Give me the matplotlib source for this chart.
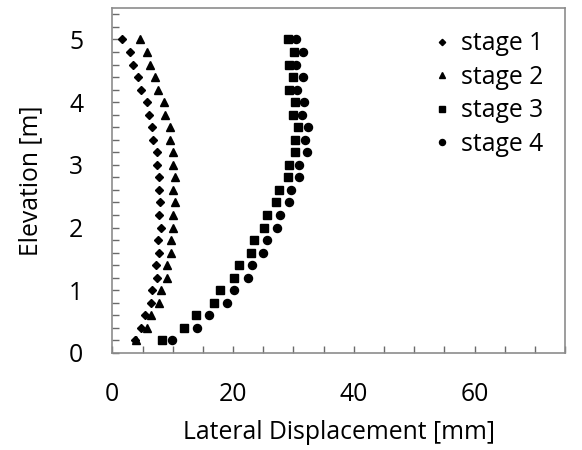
import matplotlib
matplotlib.use("Agg")
import matplotlib.pyplot as plt
from matplotlib.ticker import MultipleLocator

plt.rcParams['font.family'] = ['Open Sans', 'DejaVu Sans']

# elevation of each measuring point [m]
elev = [5.0, 4.8, 4.6, 4.4, 4.2, 4.0, 3.8, 3.6, 3.4, 3.2, 3.0, 2.8, 2.6,
        2.4, 2.2, 2.0, 1.8, 1.6, 1.4, 1.2, 1.0, 0.8, 0.6, 0.4, 0.2]

# lateral displacement [mm], top to bottom
stage1 = [1.6, 2.9, 3.5, 4.3, 4.8, 5.7, 6.0, 6.6, 6.8, 7.4, 7.4, 7.7, 7.7,
          7.9, 7.7, 8.0, 7.6, 7.7, 7.3, 7.4, 6.5, 6.4, 5.4, 4.8, 3.7]
stage2 = [4.6, 5.7, 6.3, 7.1, 7.5, 8.5, 8.7, 9.5, 9.5, 10.1, 10.0, 10.4, 10.1,
          10.4, 10.0, 10.1, 9.7, 9.7, 9.1, 9.0, 8.0, 7.7, 6.4, 5.8, 4.0]
stage3 = [29.1, 30.1, 29.2, 29.9, 29.3, 30.2, 29.9, 30.8, 30.2, 30.3, 29.2, 29.1, 27.6,
          27.1, 25.7, 25.1, 23.4, 22.9, 20.9, 20.2, 17.8, 16.8, 13.8, 11.9, 8.2]
stage4 = [30.5, 31.6, 30.5, 31.6, 30.6, 31.7, 31.4, 32.4, 31.9, 32.2, 31.0, 30.9, 29.6,
          29.3, 27.7, 27.2, 25.7, 25.0, 23.2, 22.4, 20.1, 19.0, 16.0, 14.0, 9.9]

labels = ['stage 1', 'stage 2', 'stage 3', 'stage 4']

fs = 17.8

fig = plt.figure(figsize=(5.82, 4.5), dpi=100)
ax = fig.add_axes([0.193, 0.2156, 0.778, 0.7664])

ax.plot(stage1, elev, 'D', color='black', ms=4.3, ls='none', label=labels[0])
ax.plot(stage2, elev, '^', color='black', ms=6.0, ls='none', label=labels[1])
ax.plot(stage3, elev, 's', color='black', ms=5.6, ls='none', label=labels[2])
ax.plot(stage4, elev, 'o', color='black', ms=5.8, ls='none', label=labels[3])

ax.set_xlim(0, 75)
ax.set_ylim(0, 5.5)
ax.xaxis.set_major_locator(MultipleLocator(20))
ax.xaxis.set_minor_locator(MultipleLocator(5))
ax.yaxis.set_major_locator(MultipleLocator(1))
ax.yaxis.set_minor_locator(MultipleLocator(0.2))

for s in ax.spines.values():
    s.set_color('#8c8c8c')
    s.set_linewidth(1.2)

ax.tick_params(which='both', direction='in', length=5, width=1, color='#6a6a6a',
               labelsize=fs, pad=21)
ax.tick_params(which='both', top=False, right=False)

ax.set_xlabel('Lateral Displacement [mm]', fontsize=fs)
ax.set_ylabel('Elevation [m]', fontsize=fs)
ax.xaxis.set_label_coords(0.5, -0.195)
ax.yaxis.set_label_coords(-0.152, 0.5)

ax.legend(loc='upper left', bbox_to_anchor=(0.685, 0.968), frameon=False,
          fontsize=fs, markerscale=0.75, handlelength=0.6, handletextpad=0.45,
          labelspacing=0.34, borderpad=0)

fig.savefig('out.png', dpi=100)
